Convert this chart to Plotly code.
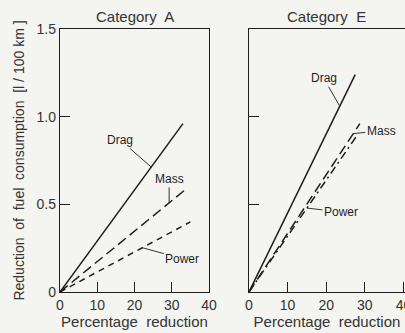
import plotly.graph_objects as go

# Data (percentage reduction vs. fuel consumption reduction)
a_drag_x = [0, 33.0];  a_drag_y = [0, 0.96]
a_mass_x = [0, 34.0];  a_mass_y = [0, 0.59]
a_power_x = [0, 35.0]; a_power_y = [0, 0.40]

e_drag_x = [0, 27.5];  e_drag_y = [0, 1.24]
e_mass_x = [0, 28.7];  e_mass_y = [0, 0.96]
e_power_x = [0, 28.2]; e_power_y = [0, 0.90]

x_ticks = [0, 10, 20, 30, 40]
y_ticks = [0, 0.5, 1.0, 1.5]
y_tick_text = ["0", "0.5", "1.0", "1.5"]

FONT = "Liberation Sans, Arial, sans-serif"
INK = "#1e1e1e"
BG = "#f4f4f1"

fig = go.Figure()

def add(x, y, dash, xa, ya):
    fig.add_trace(go.Scatter(x=x, y=y, mode="lines", xaxis=xa, yaxis=ya,
                             line=dict(color=INK, width=1.5, dash=dash),
                             showlegend=False, hoverinfo="skip"))

add(a_drag_x, a_drag_y, "solid", "x", "y")
add(a_mass_x, a_mass_y, "10px,5px", "x", "y")
add(a_power_x, a_power_y, "6px,5px", "x", "y")
add(e_drag_x, e_drag_y, "solid", "x2", "y2")
add(e_mass_x, e_mass_y, "10px,5px", "x2", "y2")
add(e_power_x, e_power_y, "8px,4px,2px,4px", "x2", "y2")

def on_line(xs, ys, xv):
    return xv, ys[1] * xv / xs[1]

def label(text, xs, ys, xv, ax, ay, xref, yref):
    px, py = on_line(xs, ys, xv)
    fig.add_annotation(x=px, y=py, xref=xref, yref=yref, text=text,
                       showarrow=True, arrowhead=0, arrowwidth=0.9,
                       arrowcolor=INK, ax=ax, ay=ay,
                       font=dict(family=FONT, size=12, color=INK))

label("Drag", a_drag_x, a_drag_y, 24.5, -31, -27, "x", "y")
label("Mass", a_mass_x, a_mass_y, 29.3, 0, -24, "x", "y")
label("Power", a_power_x, a_power_y, 22.1, 40, 11, "x", "y")
label("Drag", e_drag_x, e_drag_y, 23.5, -16, -28, "x2", "y2")
label("Mass", e_mass_x, e_mass_y, 27.0, 28, -3, "x2", "y2")
label("Power", e_power_x, e_power_y, 15.0, 34, 4, "x2", "y2")

W, H = 405, 333
ydom = [(H - 292) / H, (H - 29) / H]

axis_common = dict(showgrid=False, zeroline=False, showline=True, linecolor=INK,
                   linewidth=1.3, ticks="inside", ticklen=10, tickwidth=1,
                   tickcolor=INK, automargin=False,
                   tickfont=dict(family=FONT, size=14, color="#333"))

fig.update_layout(
    width=W, height=H,
    margin=dict(l=0, r=0, t=0, b=0, pad=0),
    paper_bgcolor=BG, plot_bgcolor=BG,
    xaxis=dict(domain=[60 / W, 209 / W], range=[0, 40], tickvals=x_ticks,
               mirror=True, anchor="y",
               title=dict(text="Percentage  reduction", standoff=4,
                          font=dict(family=FONT, size=15, color="#333")),
               **axis_common),
    yaxis=dict(domain=ydom, range=[0, 1.5], tickvals=y_ticks, ticktext=y_tick_text,
               mirror=True, anchor="x",
               title=dict(text="Reduction  of  fuel  consumption  [l / 100 km ]", standoff=8,
                          font=dict(family=FONT, size=14, color="#333")),
               **axis_common),
    xaxis2=dict(domain=[249 / W, 1.0], range=[0, 40.4], tickvals=x_ticks,
                mirror=True, anchor="y2", ticklabeloverflow="allow",
                title=dict(text="Percentage  reduction", standoff=4,
                           font=dict(family=FONT, size=15, color="#333")),
                **axis_common),
    yaxis2=dict(domain=ydom, range=[0, 1.5], tickvals=y_ticks, showticklabels=False,
                mirror=False, anchor="x2", **axis_common),
)

for txt, xc in (("Category  A", 135), ("Category  E", 326)):
    fig.add_annotation(text=txt, x=xc / W, y=(H - 16) / H, xref="paper", yref="paper",
                       xanchor="center", yanchor="middle", showarrow=False,
                       font=dict(family=FONT, size=15, color="#333"))

fig.write_html("out.html")
